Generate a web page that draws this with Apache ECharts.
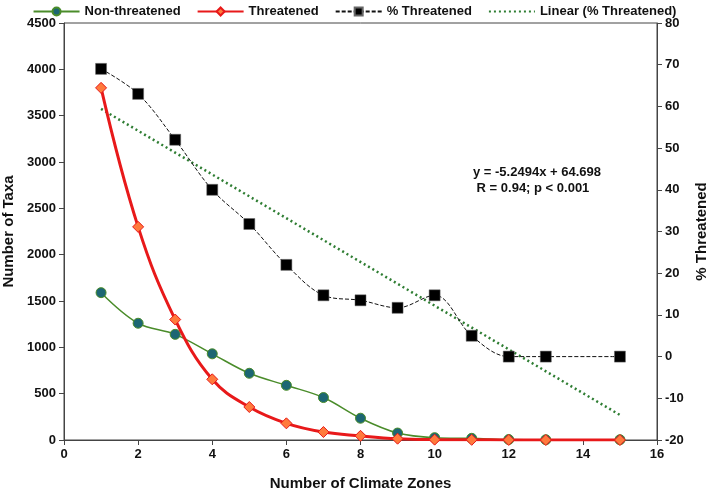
<!DOCTYPE html>
<html>
<head>
<meta charset="utf-8">
<script src="https://cdn.jsdelivr.net/npm/echarts@6/dist/echarts.min.js"></script>
<style>
  html, body { margin: 0; padding: 0; background: #fff; }
  #chart { width: 709px; height: 490px; }
</style>
</head>
<body>
<div id="chart"></div>
<script>
// values
var zones = [1, 2, 3, 4, 5, 6, 7, 8, 9, 10, 11, 12, 13, 15]
var nonThreatened = [1590, 1260, 1140, 930, 720, 590, 458, 235, 75, 25, 18, 5, 3, 3]
var threatened = [3800, 2300, 1300, 655, 356, 180, 86, 45, 14, 4, 2, 1, 0, 0]
var pctThreatened = [69, 63, 52, 40, 31.8, 22, 14.7, 13.5, 11.7, 14.7, 5, 0, 0, 0]
// trend line end points (Linear (% Threatened))
var trendX = [1, 15]
var trendY = [59.4, -14.0]

function pairs(xs, ys) {
  return xs.map(function(x, i) { return [x, ys[i]] })
}

var font = 'Liberation Sans, Arial, sans-serif'
var labelStyle = { color: '#111', fontWeight: 'bold', fontSize: 13, fontFamily: font }
var titleStyle = { color: '#111', fontWeight: 'bold', fontSize: 15, fontFamily: font }

var option = {
  animation: false,
  backgroundColor: '#fff',
  textStyle: { fontFamily: font },
  legend: {
    top: 0,
    left: 'center',
    itemWidth: 46,
    itemHeight: 10,
    itemGap: 16,
    textStyle: { color: '#111', fontWeight: 'bold', fontSize: 13, fontFamily: font },
    data: [
      'Non-threatened',
      'Threatened',
      '% Threatened',
      { name: 'Linear (% Threatened)', itemStyle: { opacity: 0 } }
    ]
  },
  grid: {
    left: 64,
    right: 52,
    top: 23,
    bottom: 50,
    outerBoundsMode: 'none',
    containLabel: false,
    show: true,
    borderColor: '#444',
    borderWidth: 1
  },
  xAxis: {
    type: 'value',
    min: 0,
    max: 16,
    interval: 2,
    name: 'Number of Climate Zones',
    nameLocation: 'middle',
    nameGap: 36,
    nameTextStyle: titleStyle,
    axisLine: { lineStyle: { color: '#444' } },
    axisTick: { show: true, length: 5, lineStyle: { color: '#444' } },
    axisLabel: labelStyle,
    splitLine: { show: false }
  },
  yAxis: [
    {
      type: 'value',
      min: 0,
      max: 4500,
      interval: 500,
      name: 'Number of Taxa',
      nameLocation: 'middle',
      nameGap: 46,
      nameTextStyle: titleStyle,
      axisLine: { show: true, lineStyle: { color: '#444' } },
      axisTick: { show: true, length: 5, lineStyle: { color: '#444' } },
      axisLabel: Object.assign({ formatter: function(v) { return String(v) } }, labelStyle),
      splitLine: { show: false }
    },
    {
      type: 'value',
      min: -20,
      max: 80,
      interval: 10,
      name: '% Threatened',
      nameLocation: 'middle',
      nameGap: 36,
      nameRotate: 90,
      nameTextStyle: titleStyle,
      axisLine: { show: true, lineStyle: { color: '#444' } },
      axisTick: { show: true, length: 5, lineStyle: { color: '#444' } },
      axisLabel: labelStyle,
      splitLine: { show: false }
    }
  ],
  graphic: [
    {
      type: 'text',
      left: 473,
      top: 164,
      style: {
        text: 'y = -5.2494x + 64.698\n R = 0.94; p < 0.001',
        fill: '#111',
        font: 'bold 13px ' + font,
        lineHeight: 16,
        align: 'left'
      }
    }
  ],
  series: [
    {
      name: 'Linear (% Threatened)',
      type: 'line',
      yAxisIndex: 1,
      data: pairs(trendX, trendY),
      symbol: 'none',
      lineStyle: { color: '#2e7d32', width: 2.5, type: [2, 3] },
      itemStyle: { color: '#2e7d32' },
      z: 2
    },
    {
      name: '% Threatened',
      type: 'line',
      yAxisIndex: 1,
      data: pairs(zones, pctThreatened),
      smooth: 0.35,
      symbol: 'rect',
      symbolSize: 11,
      lineStyle: { color: '#111', width: 1, type: [4, 2] },
      itemStyle: { color: '#000', borderColor: '#666', borderWidth: 0.5 },
      z: 3
    },
    {
      name: 'Non-threatened',
      type: 'line',
      data: pairs(zones, nonThreatened),
      smooth: 0.35,
      symbol: 'circle',
      symbolSize: 10,
      lineStyle: { color: '#4a8c2a', width: 1.5 },
      itemStyle: { color: '#1c6673', borderColor: '#4a8c2a', borderWidth: 1 },
      z: 4
    },
    {
      name: 'Threatened',
      type: 'line',
      data: pairs(zones, threatened),
      smooth: 0.4,
      symbol: 'diamond',
      symbolSize: 11,
      lineStyle: { color: '#e8191a', width: 3 },
      itemStyle: { color: '#ff7a3c', borderColor: '#e8191a', borderWidth: 1 },
      z: 5
    }
  ]
}

var chart = echarts.init(document.getElementById('chart'))
chart.setOption(option)
</script>
</body>
</html>
